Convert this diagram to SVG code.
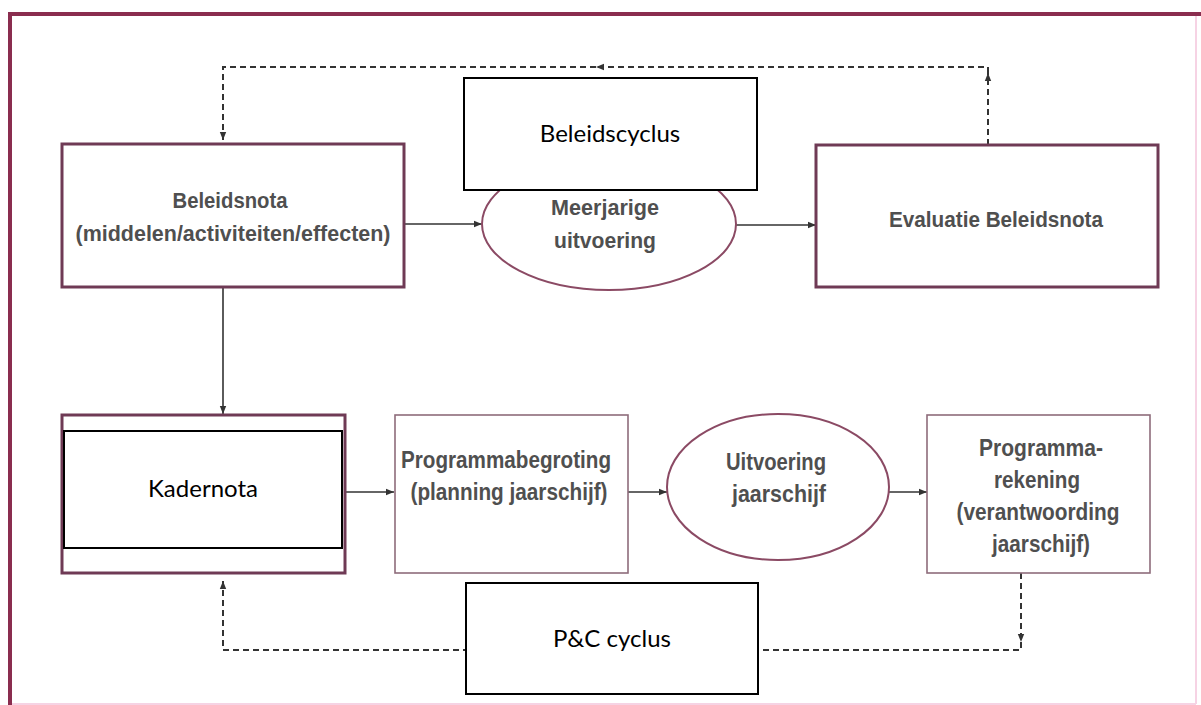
<svg xmlns="http://www.w3.org/2000/svg" width="1201" height="705" viewBox="0 0 1201 705">
  <defs>
    <marker id="ah" viewBox="0 0 10 10" refX="10" refY="5" markerWidth="8" markerHeight="8" markerUnits="userSpaceOnUse" orient="auto">
      <path d="M0,1 L10,5 L0,9 Z" fill="#333"/>
    </marker>
    <style>
      .frame { stroke: #8a2d4f; stroke-width: 4; fill: none; }
      .faint { stroke: #f6d3e4; stroke-width: 2; fill: none; }
      .boxA { fill: #ffffff; stroke: #6f3a55; stroke-width: 3; }
      .boxB { fill: #ffffff; stroke: #8e6c7b; stroke-width: 1.6; }
      .ell { fill: #ffffff; stroke: #8b4a64; stroke-width: 2; }
      .lbl { fill: #ffffff; stroke: #000000; stroke-width: 2; }
      .t { font-family: "Liberation Sans", Arial, sans-serif; font-weight: bold; fill: #4f4f4f; text-anchor: middle; }
      .tu { font-size: 22px; }
      .tl { font-size: 24px; }
      .c { font-family: Lato, "Open Sans", sans-serif; font-size: 24px; fill: #000000; text-anchor: middle; }
      .solid { stroke: #333333; stroke-width: 1.6; fill: none; }
      .dash { stroke: #333333; stroke-width: 2; fill: none; stroke-dasharray: 6 4; }
    </style>
  </defs>

  <rect x="0" y="0" width="1201" height="705" fill="#ffffff"/>

  <g id="frame">
    <line class="faint" x1="10" y1="704" x2="1196" y2="704"/>
    <line class="faint" x1="1196" y1="16" x2="1196" y2="704"/>
    <line class="frame" x1="8" y1="14" x2="1201" y2="14"/>
    <line class="frame" x1="10" y1="12" x2="10" y2="705"/>
  </g>

  <g id="connectors">
    <path class="dash" d="M988,145 L988,73" marker-end="url(#ah)"/>
    <path class="dash" d="M988,73 L988,67 L596,67" marker-end="url(#ah)"/>
    <path class="dash" d="M596,67 L223,67 L223,140" marker-end="url(#ah)"/>
    <line class="solid" x1="404" y1="224" x2="482" y2="224" marker-end="url(#ah)"/>
    <line class="solid" x1="736" y1="225" x2="816" y2="225" marker-end="url(#ah)"/>
    <line class="solid" x1="223" y1="287" x2="223" y2="414" marker-end="url(#ah)"/>
    <line class="solid" x1="345" y1="492" x2="394" y2="492" marker-end="url(#ah)"/>
    <line class="solid" x1="628" y1="492" x2="667" y2="492" marker-end="url(#ah)"/>
    <line class="solid" x1="889" y1="492" x2="927" y2="492" marker-end="url(#ah)"/>
    <path class="dash" d="M1021,573 L1021,642" marker-end="url(#ah)"/>
    <path class="dash" d="M1021,642 L1021,650 L223,650 L223,581" marker-end="url(#ah)"/>
  </g>

  <g id="beleidsnota">
    <rect class="boxA" x="62" y="144" width="342" height="143"/>
    <text class="t tu" x="230" y="208" textLength="115" lengthAdjust="spacingAndGlyphs">Beleidsnota</text>
    <text class="t tu" x="233" y="241" textLength="315" lengthAdjust="spacingAndGlyphs">(middelen/activiteiten/effecten)</text>
  </g>

  <g id="meerjarige-uitvoering">
    <ellipse class="ell" cx="609" cy="224" rx="127" ry="66"/>
    <text class="t tu" x="605" y="215" textLength="108" lengthAdjust="spacingAndGlyphs">Meerjarige</text>
    <text class="t tu" x="605" y="248" textLength="102" lengthAdjust="spacingAndGlyphs">uitvoering</text>
  </g>

  <g id="beleidscyclus">
    <rect class="lbl" x="464" y="78" width="293" height="112"/>
    <text class="c" x="610" y="142">Beleidscyclus</text>
  </g>

  <g id="evaluatie">
    <rect class="boxA" x="816" y="145" width="342" height="142"/>
    <text class="t tu" x="996" y="227" textLength="214" lengthAdjust="spacingAndGlyphs">Evaluatie Beleidsnota</text>
  </g>

  <g id="kadernota">
    <rect class="boxA" x="62" y="415" width="283" height="158"/>
    <rect class="lbl" x="64" y="431" width="278" height="117"/>
    <text class="c" x="203" y="497">Kadernota</text>
  </g>

  <g id="programmabegroting">
    <rect class="boxB" x="395" y="415" width="233" height="158"/>
    <text class="t tl" x="506" y="468" textLength="210" lengthAdjust="spacingAndGlyphs">Programmabegroting</text>
    <text class="t tl" x="509" y="500" textLength="197" lengthAdjust="spacingAndGlyphs">(planning jaarschijf)</text>
  </g>

  <g id="uitvoering-jaarschijf">
    <ellipse class="ell" cx="778" cy="487" rx="111" ry="73"/>
    <text class="t tl" x="776" y="470" textLength="100" lengthAdjust="spacingAndGlyphs">Uitvoering</text>
    <text class="t tl" x="779" y="502" textLength="94" lengthAdjust="spacingAndGlyphs">jaarschijf</text>
  </g>

  <g id="programmarekening">
    <rect class="boxB" x="927" y="415" width="223" height="158"/>
    <text class="t tl" x="1041" y="456" textLength="124" lengthAdjust="spacingAndGlyphs">Programma-</text>
    <text class="t tl" x="1037" y="488" textLength="86" lengthAdjust="spacingAndGlyphs">rekening</text>
    <text class="t tl" x="1038" y="520" textLength="163" lengthAdjust="spacingAndGlyphs">(verantwoording</text>
    <text class="t tl" x="1041" y="552" textLength="98" lengthAdjust="spacingAndGlyphs">jaarschijf)</text>
  </g>

  <g id="pc-cyclus">
    <rect class="lbl" x="466" y="583" width="292" height="111"/>
    <text class="c" x="612" y="647">P&amp;C cyclus</text>
  </g>
</svg>
